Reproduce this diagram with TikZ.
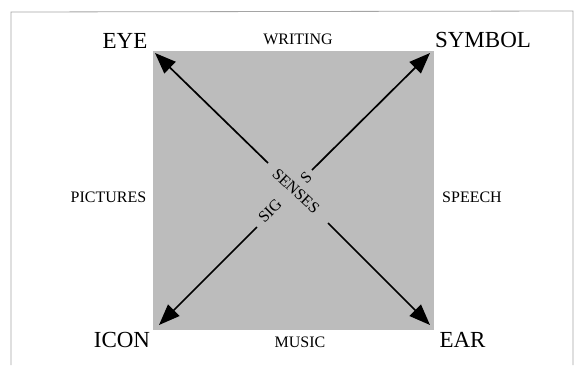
\documentclass[tikz,border=0pt]{standalone}
\usepackage{fontspec}
\setmainfont{Liberation Serif}
\usetikzlibrary{arrows.meta}
\definecolor{sqgray}{RGB}{188,188,188}
\definecolor{framegray}{RGB}{165,165,165}
\tikzset{
  big/.style={font=\fontsize{23}{23}\selectfont, inner sep=0pt, anchor=base},
  small/.style={font=\fontsize{16}{16}\selectfont, inner sep=0pt, anchor=base},
  mid/.style={font=\fontsize{16}{16}\selectfont, inner sep=0pt},
  arr/.style={line width=1.7pt, -{Triangle[length=21pt,width=16pt]}}
}
\begin{document}
\begin{tikzpicture}[x=1pt,y=-1pt]
\useasboundingbox (0,0) rectangle (576,365);
\fill[white] (0,0) rectangle (576,365);
% frame
\draw[framegray, line width=0.8pt] (11,365) -- (11,12) -- (573,11) -- (573,365);
% gray square
\fill[sqgray] (153,51) rectangle (434,330);
% labels
\node[big] (eye) at (125,48) {EYE};
\node[big] (symbol) at (483,47) {SYMBOL};
\node[big] (icon) at (122,347) {ICON};
\node[big] (ear) at (462.5,347) {EAR};
\node[small] (writing) at (298,44) {WRITING};
\node[small] (music) at (300,347) {MUSIC};
\node[small] (pictures) at (108.5,202) {PICTURES};
\node[small] (speech) at (472,202) {SPEECH};
% center text
\node[mid, rotate=-43] (senses) at (296,191) {SENSES};
\node[mid, rotate=45] (sig) at (270,211) {SIG};
\node[mid, rotate=45] (s) at (306,178) {S};
% arrow ends
\coordinate (ul) at (268,163);
\coordinate (ur) at (312,170);
\coordinate (ll) at (257,227);
\coordinate (lr) at (328,223);
\coordinate (eyetip) at (155,53);
\coordinate (symtip) at (430,53);
\coordinate (icontip) at (159,325);
\coordinate (eartip) at (430,325);
\draw[arr] (ul) -- (eyetip);
\draw[arr] (ur) -- (symtip);
\draw[arr] (ll) -- (icontip);
\draw[arr] (lr) -- (eartip);
\end{tikzpicture}
\end{document}
